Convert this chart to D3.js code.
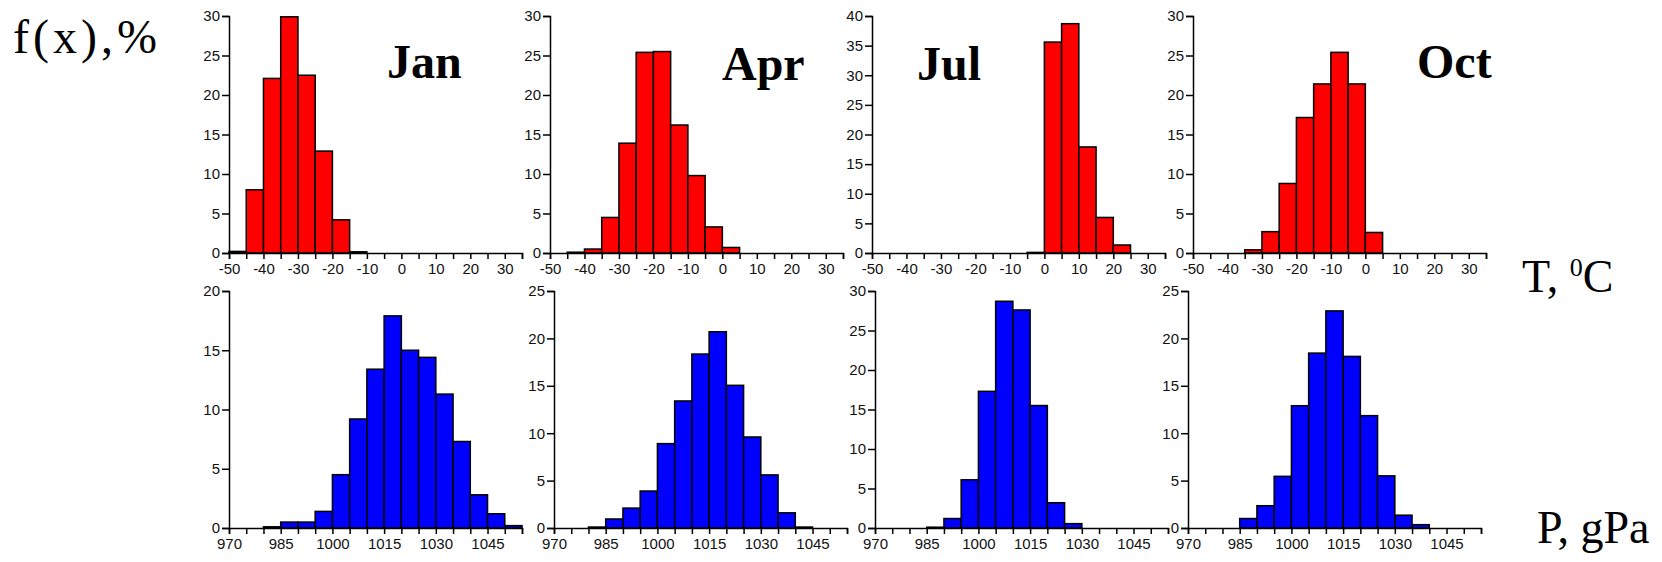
<!DOCTYPE html>
<html>
<head>
<meta charset="utf-8">
<script src="https://cdn.jsdelivr.net/npm/d3@7"></script>
<style>
  body { margin: 0; background: #fff; }
  .tick text { font-family: "Liberation Sans", Arial, sans-serif; font-size: 15px; fill: #111; }
  .domain, .tick line { stroke: #000; stroke-width: 1.5px; }
</style>
</head>
<body>
<div id="plot"></div>
<script>
  // bins (left edges)
  var tempBins = [-50,-45,-40,-35,-30,-25,-20,-15,-10,-5,0,5,10,15,20,25,30];
  var presBins = [970,975,980,985,990,995,1000,1005,1010,1015,1020,1025,1030,1035,1040,1045,1050];

  var months = ["Jan", "Apr", "Jul", "Oct"];

  // f(x), % - temperature
  var tJan = [0.2, 8.0, 22.1, 29.9, 22.5, 12.9, 4.2, 0.15, 0, 0, 0, 0, 0, 0, 0, 0, 0];
  var tApr = [0, 0.1, 0.5, 4.5, 13.9, 25.4, 25.5, 16.2, 9.8, 3.3, 0.7, 0, 0, 0, 0, 0, 0];
  var tJul = [0, 0, 0, 0, 0, 0, 0, 0, 0, 0.1, 35.6, 38.7, 17.9, 6.0, 1.35, 0, 0];
  var tOct = [0, 0, 0, 0.4, 2.7, 8.8, 17.15, 21.4, 25.4, 21.4, 2.6, 0, 0, 0, 0, 0, 0];

  // f(x), % - pressure
  var pJan = [0, 0, 0.1, 0.5, 0.5, 1.4, 4.5, 9.2, 13.4, 17.9, 15.0, 14.4, 11.3, 7.3, 2.8, 1.2, 0.2];
  var pApr = [0, 0, 0.1, 0.95, 2.1, 3.9, 8.9, 13.4, 18.35, 20.7, 15.05, 9.6, 5.6, 1.6, 0.1, 0, 0];
  var pJul = [0, 0, 0, 0.1, 1.2, 6.1, 17.3, 28.7, 27.6, 15.5, 3.2, 0.55, 0, 0, 0, 0, 0];
  var pOct = [0, 0, 0, 1.0, 2.35, 5.45, 12.9, 18.45, 22.9, 18.1, 11.85, 5.5, 1.35, 0.35, 0, 0, 0];

  var tMax = [30, 30, 40, 30];
  var pMax = [20, 25, 30, 25];

  var tTicks = [-50,-45,-40,-35,-30,-25,-20,-15,-10,-5,0,5,10,15,20,25,30,35];
  var tLabels = [-50,-40,-30,-20,-10,0,10,20,30];
  var pTicks = [970,975,980,985,990,995,1000,1005,1010,1015,1020,1025,1030,1035,1040,1045,1050,1055];
  var pLabels = [970,985,1000,1015,1030,1045];

  var W = 1662, H = 562;
  var panelW = 293, panelH = 237;
  var topLeft = [229, 550, 872, 1193], topY = 16;
  var botLeft = [229, 554, 875, 1188], botY = 291;
  var monthPos = [[387, 78], [722, 80], [917, 80], [1417, 78]];

  var svg = d3.select("#plot").append("svg")
    .attr("width", W).attr("height", H);

  function panel(left, top, bins, values, xDomain, ticks, labels, yMax, color) {
    var g = svg.append("g").attr("transform", "translate(" + left + "," + top + ")");
    var x = d3.scaleLinear().domain(xDomain).range([0, panelW]);
    var y = d3.scaleLinear().domain([0, yMax]).range([panelH, 0]);

    var data = bins.map(function(b, i) { return {x0: b, v: values[i]}; })
      .filter(function(d) { return d.v > 0; });

    g.selectAll("rect").data(data).enter().append("rect")
      .attr("x", function(d) { return x(d.x0); })
      .attr("width", function(d) { return x(d.x0 + 5) - x(d.x0); })
      .attr("y", function(d) { return y(d.v); })
      .attr("height", function(d) { return panelH - y(d.v); })
      .style("fill", color)
      .style("stroke", "#000")
      .style("stroke-width", 1.5);

    g.append("g")
      .attr("transform", "translate(0," + panelH + ")")
      .call(d3.axisBottom(x).tickValues(ticks).tickSizeOuter(0).tickSize(6).tickPadding(4)
        .tickFormat(function(d) { return labels.indexOf(d) >= 0 ? d : ""; }));

    var yt = d3.range(0, yMax + 1, 5);
    g.append("g")
      .call(d3.axisLeft(y).tickValues(yt).tickSizeOuter(0).tickSize(7).tickPadding(2));
  }

  var tSeries = [tJan, tApr, tJul, tOct];
  var pSeries = [pJan, pApr, pJul, pOct];

  months.forEach(function(m, i) {
    panel(topLeft[i], topY, tempBins, tSeries[i], [-50, 35], tTicks, tLabels, tMax[i], "#ff0000");
    panel(botLeft[i], botY, presBins, pSeries[i], [970, 1055], pTicks, pLabels, pMax[i], "#0000ff");

    svg.append("text")
      .attr("x", monthPos[i][0]).attr("y", monthPos[i][1])
      .style("font-family", "'Liberation Serif', 'Times New Roman', serif")
      .style("font-weight", "bold")
      .style("font-size", "48px")
      .text(m);
  });

  var serif = "'Liberation Serif', 'Times New Roman', serif";

  svg.append("text")
    .attr("x", 13).attr("y", 53)
    .attr("textLength", 144).attr("lengthAdjust", "spacing")
    .style("font-family", serif).style("font-size", "48px")
    .text("f(x),%");

  var tl = svg.append("text")
    .attr("x", 1522).attr("y", 292)
    .style("font-family", serif).style("font-size", "46px");
  tl.append("tspan").text("T, ");
  tl.append("tspan").attr("dy", -16).style("font-size", "26px").text("0");
  tl.append("tspan").attr("dy", 16).text("C");

  svg.append("text")
    .attr("x", 1537).attr("y", 543)
    .style("font-family", serif).style("font-size", "46px")
    .text("P, gPa");
</script>
</body>
</html>
